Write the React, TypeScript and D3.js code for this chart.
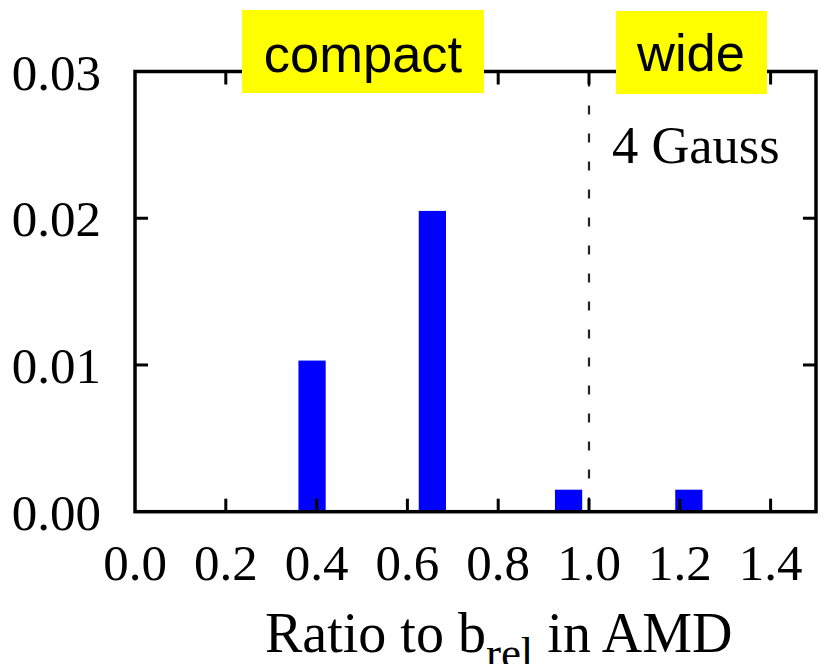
import React from "react";
import * as d3 from "d3";

const xTicks = [0.0, 0.2, 0.4, 0.6, 0.8, 1.0, 1.2, 1.4];
const yTicks = [0.0, 0.01, 0.02, 0.03];
const barCenters = [0.39, 0.655, 0.955, 1.22];
const barValues = [0.0103, 0.0205, 0.0015, 0.0015];
const barWidth = 0.06;
const boundary = 1.0;
const labelCompact = "compact";
const labelWide = "wide";
const annotation = "4 Gauss";

const W = 827;
const H = 664;
const left = 135;
const right = 816;
const top = 71.5;
const bottom = 511.7;

export default function App() {
  const x = d3.scaleLinear().domain([0, 1.5]).range([left, right]);
  const y = d3.scaleLinear().domain([0, 0.03]).range([bottom, top]);
  const serif = "'Liberation Serif', 'Times New Roman', serif";
  const sans = "'Liberation Sans', Arial, sans-serif";
  const tickLen = 13;
  const fmtY = d3.format(".2f");
  const fmtX = d3.format(".1f");

  return (
    <svg
      width={W}
      height={H}
      viewBox={`0 0 ${W} ${H}`}
      style={{ position: "absolute", left: 0, top: 0, background: "#fff" }}
    >
      <rect x={0} y={0} width={W} height={H} fill="#fff" />
      {barCenters.map((c, i) => (
        <rect
          key={i}
          x={x(c - barWidth / 2)}
          y={y(barValues[i])}
          width={x(c + barWidth / 2) - x(c - barWidth / 2)}
          height={y(0) - y(barValues[i])}
          fill="#0000ff"
        />
      ))}
      <line
        x1={x(boundary)}
        x2={x(boundary)}
        y1={top}
        y2={bottom}
        stroke="#222"
        strokeWidth={2.2}
        strokeDasharray="9,19"
        strokeDashoffset={-6}
      />
      {xTicks.slice(1).map((t) => (
        <g key={"xt" + t}>
          <line x1={x(t)} x2={x(t)} y1={bottom} y2={bottom - tickLen} stroke="#000" strokeWidth={3} />
          <line x1={x(t)} x2={x(t)} y1={top} y2={top + tickLen} stroke="#000" strokeWidth={3} />
        </g>
      ))}
      {yTicks.slice(1, 3).map((t) => (
        <g key={"yt" + t}>
          <line x1={left} x2={left + tickLen} y1={y(t)} y2={y(t)} stroke="#000" strokeWidth={3} />
          <line x1={right} x2={right - tickLen} y1={y(t)} y2={y(t)} stroke="#000" strokeWidth={3} />
        </g>
      ))}
      <rect
        x={left}
        y={top}
        width={right - left}
        height={bottom - top}
        fill="none"
        stroke="#000"
        strokeWidth={3.5}
      />
      {yTicks.map((t) => (
        <text
          key={"yl" + t}
          x={101}
          y={y(t) + 18}
          textAnchor="end"
          fontFamily={serif}
          fontSize={51}
          fill="#000"
        >
          {fmtY(t)}
        </text>
      ))}
      {xTicks.map((t) => (
        <text
          key={"xl" + t}
          x={x(t)}
          y={580}
          textAnchor="middle"
          fontFamily={serif}
          fontSize={51}
          fill="#000"
        >
          {fmtX(t)}
        </text>
      ))}
      <text x={265} y={651.5} fontFamily={serif} fontSize={56} fill="#000">
        <tspan>Ratio to b</tspan>
        <tspan fontSize={45} dy={16}>rel</tspan>
        <tspan dy={-16}> in AMD</tspan>
      </text>
      <text x={612} y={162.5} fontFamily={serif} fontSize={52.5} fill="#000">
        {annotation}
      </text>
      <rect x={242} y={10} width={242} height={83} fill="#ffff00" />
      <text x={363} y={71.5} textAnchor="middle" fontFamily={sans} fontSize={52.5} fill="#000">
        {labelCompact}
      </text>
      <rect x={616} y={11} width={151} height={83} fill="#ffff00" />
      <text x={691} y={71} textAnchor="middle" fontFamily={sans} fontSize={52.5} fill="#000">
        {labelWide}
      </text>
    </svg>
  );
}
